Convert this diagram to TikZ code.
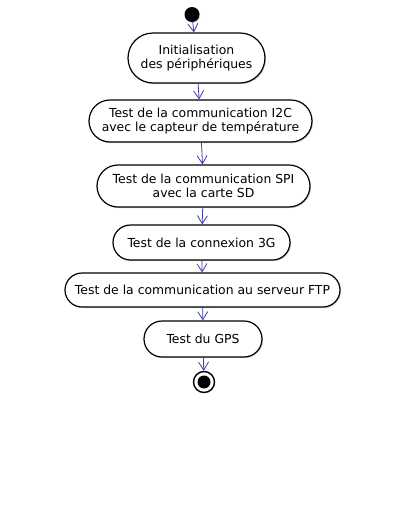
\documentclass[tikz,border=0pt]{standalone}
\usepackage{fontspec}
\setmainfont{DejaVu Sans}
\usetikzlibrary{arrows.meta, shapes.misc, shadows}

\definecolor{flowblue}{RGB}{60,60,170}

\begin{document}
\begin{tikzpicture}[x=1pt,y=-1pt,>={Straight Barb[length=8pt,width=10pt]},
  action/.style={rounded rectangle, draw=black, line width=1.2pt, fill=white,
    align=center, inner sep=0pt, font=\fontsize{12.4}{14.5}\selectfont,
    drop shadow={shadow xshift=1pt, shadow yshift=-1.2pt, opacity=0.35}},
  flow/.style={->, draw=flowblue, line width=0.8pt}]
  % page is 410 x 512, y grows downwards
  \useasboundingbox[fill=white] (0,0) rectangle (410,512);

  % start
  \node[circle, fill=black, minimum size=15pt, inner sep=0pt,
    drop shadow={shadow xshift=0.8pt, shadow yshift=-0.8pt, opacity=0.3}]
    (start) at (192,14.5) {};

  % actions
  \node[action, minimum width=137pt, minimum height=50pt] (init) at (196.5,58)
    {Initialisation\\des périphériques};
  \node[action, minimum width=223pt, minimum height=42pt] (itwoc) at (200.5,121)
    {Test de la communication I2C\\avec le capteur de température};
  \node[action, minimum width=213pt, minimum height=42pt] (spi) at (203.5,186)
    {Test de la communication SPI\\avec la carte SD};
  \node[action, minimum width=177pt, minimum height=35pt] (threeg) at (201.5,242.5)
    {Test de la connexion 3G};
  \node[action, minimum width=275pt, minimum height=34pt] (ftp) at (202.5,290)
    {Test de la communication au serveur FTP};
  \node[action, minimum width=118pt, minimum height=36pt] (gps) at (203,339)
    {Test du GPS};

  % end
  \node[circle, draw=black, line width=1.4pt, fill=white, minimum size=21pt,
    inner sep=0pt,
    drop shadow={shadow xshift=0.8pt, shadow yshift=-0.8pt, opacity=0.3}]
    (stop) at (204,382) {};
  \fill[black] (stop.center) circle (6.5pt);

  % flows
  \draw[flow] (start) -- (init);
  \draw[flow] (init) -- (itwoc);
  \draw[flow] (itwoc) -- (spi);
  \draw[flow] (spi) -- (threeg);
  \draw[flow] (threeg) -- (ftp);
  \draw[flow] (ftp) -- (gps);
  \draw[flow] (gps) -- (stop);
\end{tikzpicture}
\end{document}
